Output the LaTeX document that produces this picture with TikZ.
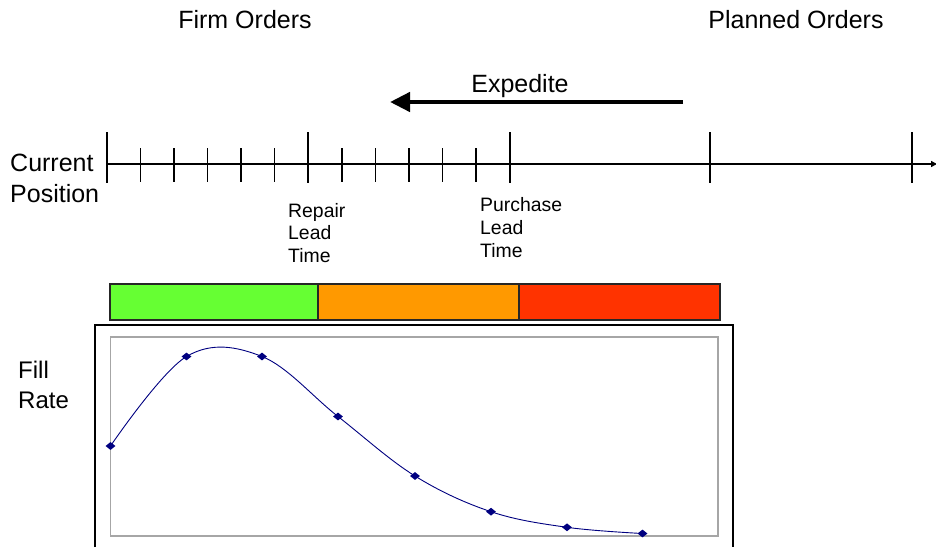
\documentclass[tikz,border=0pt]{standalone}
\usepackage{fontspec}
\setmainfont{Liberation Sans}
\usetikzlibrary{arrows.meta,shapes.geometric}
\definecolor{barGreen}{HTML}{66FF33}
\definecolor{barOrange}{HTML}{FF9900}
\definecolor{barRed}{HTML}{FF3300}
\definecolor{curveNavy}{HTML}{000080}
\definecolor{frameGray}{HTML}{A6A6A6}
\begin{document}
\begin{tikzpicture}[x=1pt,y=-1pt,
  bigtext/.style={font=\fontsize{25}{31}\selectfont,inner sep=0pt},
  smalltext/.style={font=\fontsize{19.4}{22.5}\selectfont,inner sep=0pt,align=left,anchor=west},
  axisline/.style={line width=1.4pt},
  majortick/.style={line width=1.4pt},
  minortick/.style={line width=1.4pt},
  barseg/.style={draw=black!85,line width=1.5pt},
  datamark/.style={shape=diamond,fill=curveNavy,inner sep=0pt,minimum width=10pt,minimum height=8pt},
]
\useasboundingbox (0,0) rectangle (936,547);

% headings
\node[bigtext] (firm) at (245,20) {Firm Orders};
\node[bigtext] (planned) at (796,20) {Planned Orders};

% expedite arrow
\node[bigtext] (expedite) at (520,86) {Expedite};
\coordinate (expFrom) at (683,102);
\coordinate (expTo) at (390,102);
\draw[line width=4.5pt,-{Triangle[length=20pt,width=19pt]}] (expFrom) -- (expTo);

% timeline
\coordinate (tlStart) at (107,164);
\coordinate (tlEnd) at (937,164);
\draw[axisline,-{Triangle[length=6pt,width=6pt]}] (tlStart) -- (tlEnd);
\foreach \x in {107,308,510,710,912}
  \draw[majortick] (\x,132) -- (\x,183);
\foreach \x in {140.5,174,207.5,241,274.5,342,375.5,409,442.5,476}
  \draw[minortick] (\x,148) -- (\x,182);

\node[bigtext,anchor=west,align=left] (curpos) at (10,178.5) {Current\\Position};
\node[smalltext] (repair) at (288,233) {Repair\\Lead\\Time};
\node[smalltext,font=\fontsize{19.4}{23}\selectfont] (purchase) at (480,228) {Purchase\\Lead\\Time};

% colour bar
\draw[barseg,fill=barGreen] (110,284) rectangle (318,320);
\draw[barseg,fill=barOrange] (318,284) rectangle (519,320);
\draw[barseg,fill=barRed] (519,284) rectangle (720,320);

% chart frames
\draw[line width=1.4pt] (95,547) -- (95,325) -- (733,325) -- (733,547);
\draw[frameGray,line width=1.5pt] (110.5,337) rectangle (718,536);

\node[bigtext,anchor=west,align=left,font=\fontsize{24}{30}\selectfont] (fill) at (18,385) {Fill\\Rate};

% curve
\draw[curveNavy,line width=0.9pt] plot[smooth,tension=0.6] coordinates
  {(110.5,446) (186.5,356.5) (262,356.5) (338,416.5) (415,476) (491,511.7) (567,527.3) (642.5,533.5)};
\foreach \p [count=\i] in {(110.5,446),(186.5,356.5),(262,356.5),(338,416.5),(415,476),(491,511.7),(567,527.3),(642.5,533.5)}
  \node[datamark] (pt\i) at \p {};
\end{tikzpicture}
\end{document}
